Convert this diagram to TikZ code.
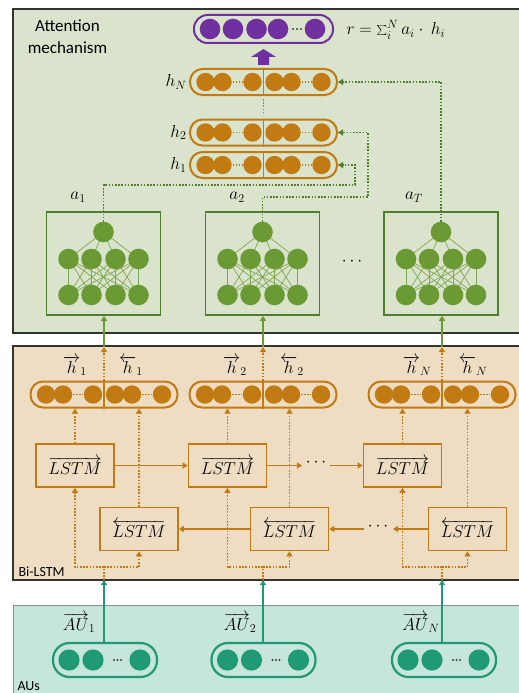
\documentclass[tikz,border=0pt]{standalone}
\usepackage{fontspec}
\setmainfont{Carlito}
\usetikzlibrary{arrows.meta}
\definecolor{panA}{HTML}{DAE3CC}
\definecolor{panB}{HTML}{EEDCC3}
\definecolor{panC}{HTML}{C6E5DB}
\definecolor{orng}{HTML}{C27A12}
\definecolor{nng}{HTML}{6B9A35}
\definecolor{nnd}{HTML}{507D2E}
\definecolor{nnl}{HTML}{7FA852}
\definecolor{auteal}{HTML}{1F9A75}
\definecolor{purp}{HTML}{7030A0}
\tikzset{
  every node/.style={font=\fontsize{17}{20}\selectfont},
  panel/.style={line width=1.3pt, draw=black!80},
  hcap/.style={draw=orng, line width=2pt, rounded corners=12.5pt, minimum width=147pt, minimum height=26pt, inner sep=0pt},
  pcap/.style={draw=purp, line width=2pt, rounded corners=13.5pt, minimum width=139pt, minimum height=28pt, inner sep=0pt},
  aucap/.style={draw=auteal, line width=2.2pt, rounded corners=16.5pt, minimum width=104pt, minimum height=34pt, inner sep=0pt},
  nnb/.style={draw=nnd, line width=1.6pt, minimum width=114pt, minimum height=103pt, inner sep=0pt},
  nnc/.style={circle, fill=nng, minimum size=20.6pt, inner sep=0pt},
  nnline/.style={nnl, line width=0.7pt},
  lstmbox/.style={draw=orng, line width=1.6pt, minimum width=78pt, minimum height=43pt, inner sep=0pt},
  arr/.style={-{Triangle[length=5pt,width=6pt]}},
  odot/.style={orng, line width=1.5pt, dash pattern=on 1.6pt off 1.6pt},
  gdot/.style={nnd, line width=1.5pt, dash pattern=on 1.6pt off 1.6pt},
  osol/.style={orng, line width=1.6pt},
  gsol/.style={nng, line width=1.6pt},
  ausol/.style={auteal, line width=1.8pt},
}
\newcommand\hvec[3]{%
  \node[hcap] (#1) at (#2,#3) {};
  \foreach \dx in {-58,-41,-11,11,28,58} \fill[orng] ({#2+\dx},#3) circle (9.2pt);
  \draw[orng, line width=1.6pt] (#1.north) -- (#1.south);
  \draw[orng, line width=1.4pt, dash pattern=on 1.5pt off 1.5pt] ({#2-31},#3) -- ({#2-21},#3);
  \draw[orng, line width=1.4pt, dash pattern=on 1.5pt off 1.5pt] ({#2+38},#3) -- ({#2+48},#3);
}
\newcommand\auvec[3]{%
  \node[aucap] (#1) at (#2,#3) {};
  \foreach \dx in {-36,-12,35} \fill[auteal] ({#2+\dx},#3) circle (10.6pt);
  \foreach \dx in {9,12.5,16} \fill[black!75] ({#2+\dx},#3) circle (1.1pt);
}
\newcommand\nnbox[2]{%
  \node[nnb] (#1) at (#2,263.5) {};
  \foreach \i in {-35,-12,12,35} {
    \draw[nnline] (#2,232) -- ({#2+\i},259);
    \foreach \j in {-35,-12,12,35} \draw[nnline] ({#2+\i},259) -- ({#2+\j},295);
  }
  \node[nnc] (#1t) at (#2,232) {};
  \foreach \i in {-35,-12,12,35} {\fill[nng] ({#2+\i},259) circle (10.3pt); \fill[nng] ({#2+\i},295) circle (10.3pt);}
}
\begin{document}
\begin{tikzpicture}[x=1pt,y=-1pt]
\useasboundingbox (0,0) rectangle (519,693);
\clip (0,0) rectangle (519,693);
\fill[white] (0,0) rectangle (519,693);
% panels
\draw[panel, fill=panA] (13,9) rectangle (540,333);
\draw[panel, fill=panB] (13,346) rectangle (540,580);
\draw[line width=1pt, draw=black!45, fill=panC] (13,605) rectangle (540,720);
% panel labels
\node[anchor=base] (att1) at (67.5,32) {Attention};
\node[anchor=base] (att2) at (67.5,53) {mechanism};
\node[anchor=base west, font=\fontsize{14}{16}\selectfont] (bil) at (15,576) {Bi-LSTM};
\node[anchor=base west, font=\fontsize{14}{16}\selectfont] (aus) at (14,690) {AUs};
% output vector
\node[pcap] (outv) at (263.5,29) {};
\foreach \dx in {-53.5,-30.5,-7,14.5,51.5} \fill[purp] ({263.5+\dx},29) circle (10.3pt);
\foreach \dx in {293,297,301} \fill[black!75] (\dx,29) circle (1.1pt);
\node[anchor=base west] (form) at (343,35) {$r=\sum_i^N a_i\cdot\ h_i$};
\fill[purp] (258,65) -- (258,57) -- (251,57) -- (263.5,49) -- (276,57) -- (269,57) -- (269,65) -- cycle;
% attention h vectors
\hvec{hN}{263.5}{82}
\hvec{h2}{263.5}{132.5}
\hvec{h1}{263.5}{165}
\draw[orng, line width=1.5pt, dash pattern=on 1.6pt off 1.6pt] (263.5,99) -- (263.5,115);
\node[anchor=east] (lhN) at (190,82) {$h_N$};
\node[anchor=east] (lh2) at (190,132.5) {$h_2$};
\node[anchor=east] (lh1) at (190,165) {$h_1$};
% attention networks
\nnbox{nn1}{103.5}
\nnbox{nn2}{262.5}
\nnbox{nn3}{441}
\node (la1) at (78,197) {$a_1$};
\node (la2) at (237,197) {$a_2$};
\node (la3) at (414,197) {$a_T$};
\node (nndots) at (352,262) {$\cdots$};
\coordinate (k1) at (355,185);
\coordinate (k2) at (368,197);
\draw[gdot,arr] (nn1t.north) |- (k1) |- (h1.east);
\draw[gdot,arr] (nn2t.north) |- (k2) |- (h2.east);
\draw[gdot,arr] (nn3t.north) |- (hN.east);
% Bi-LSTM
\hvec{c1}{104}{394.5}
\hvec{c2}{263}{394.5}
\hvec{c3}{442}{394.5}
\node (lf1) at (75,366) {$\overrightarrow{h}_1$};
\node (lb1) at (131,366) {$\overleftarrow{h}_1$};
\node (lf2) at (235,366) {$\overrightarrow{h}_2$};
\node (lb2) at (292,366) {$\overleftarrow{h}_2$};
\node (lf3) at (417,366) {$\overrightarrow{h}_N$};
\node (lb3) at (473,366) {$\overleftarrow{h}_N$};
\node[lstmbox] (f1) at (75,465.5) {$\overrightarrow{LSTM}$};
\node[lstmbox] (f2) at (227.5,465.5) {$\overrightarrow{LSTM}$};
\node[lstmbox] (f3) at (402.5,465.5) {$\overrightarrow{LSTM}$};
\node[lstmbox] (b1) at (139,529) {$\overleftarrow{LSTM}$};
\node[lstmbox] (b2) at (289.5,529) {$\overleftarrow{LSTM}$};
\node[lstmbox] (b3) at (467.5,529) {$\overleftarrow{LSTM}$};
% horizontal LSTM links
\draw[osol,arr] (f1.east) -- (f2.west);
\coordinate (fa) at (302,465.5);
\coordinate (fb) at (330,465.5);
\draw[osol,arr] (f2.east) -- (fa);
\node (fdots) at (316,463) {$\cdots$};
\draw[osol,arr] (fb) -- (f3.west);
\coordinate (ba) at (393,529);
\coordinate (bb) at (364,529);
\draw[osol,arr] (b3.west) -- (ba);
\node (bdots) at (378,527) {$\cdots$};
\draw[osol,arr] (bb) -- (b2.east);
\draw[osol,arr] (b2.west) -- (b1.east);
% LSTM to capsules
\foreach \f/\c in {f1/c1,f2/c2,f3/c3,b1/c1,b2/c2,b3/c3}
  \draw[odot,arr] (\f.north) -- (\f.north |- \c.south);
% capsules to attention nets
\foreach \c/\n/\x in {c1/nn1/104,c2/nn2/263,c3/nn3/442} {
  \coordinate (p\n) at (\x,347);
  \draw[gsol,arr] (p\n) -- (p\n |- \n.south);
  \draw[odot,arr] (\c.north) -- (p\n);
}
% inputs split
\foreach \x/\f/\b/\k in {104/f1/b1/1,263/f2/b2/2,442/f3/b3/3} {
  \coordinate (i\k) at (\x,580);
  \coordinate (s\k) at (\x,567);
  \draw[odot] (i\k) -- (s\k);
  \draw[odot,arr] (s\k) -| (\f.south);
  \draw[odot,arr] (s\k) -| (\b.south);
}
% AUs
\auvec{au1}{105}{660}
\auvec{au2}{263.5}{660}
\auvec{au3}{444}{660}
\draw[ausol,arr] (au1.north -| i1) -- (i1);
\draw[ausol,arr] (au2.north -| i2) -- (i2);
\draw[ausol,arr] (au3.north -| i3) -- (i3);
\node (lau1) at (79,623) {$\overrightarrow{AU}_1$};
\node (lau2) at (240,623) {$\overrightarrow{AU}_2$};
\node (lau3) at (421,623) {$\overrightarrow{AU}_N$};
\end{tikzpicture}
\end{document}
